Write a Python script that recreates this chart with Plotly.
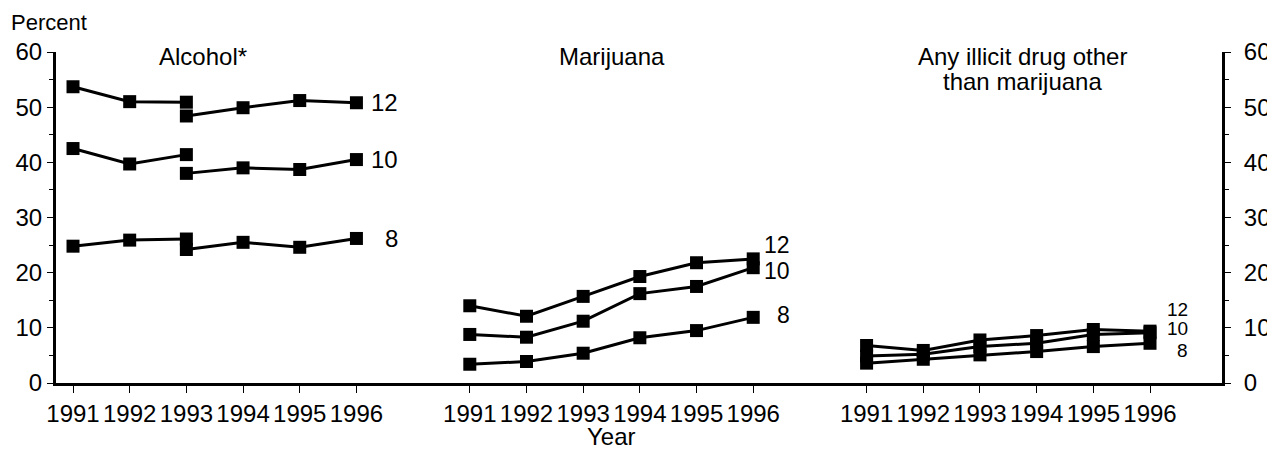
import plotly.graph_objects as go

# years shown in each panel
years = ["1991", "1992", "1993", "1994", "1995", "1996"]
panels = ["Alcohol*", "Marijuana", "Any illicit drug other<br>than marijuana"]
grades = ["12", "10", "8"]

# alcohol: questionnaire change in 1993 -> old (1991-93) and new (1993-96) segments
alc_12_old = [53.7, 51.0, 50.9]
alc_12_new = [48.4, 49.9, 51.2, 50.8]
alc_10_old = [42.5, 39.7, 41.4]
alc_10_new = [38.0, 39.0, 38.7, 40.5]
alc_8_old = [24.8, 25.9, 26.1]
alc_8_new = [24.2, 25.5, 24.6, 26.2]

# marijuana
mj_12 = [14.0, 12.1, 15.7, 19.3, 21.8, 22.5]
mj_10 = [8.8, 8.3, 11.2, 16.2, 17.5, 20.9]
mj_8 = [3.4, 3.9, 5.4, 8.2, 9.5, 11.9]

# any illicit drug other than marijuana
oth_12 = [6.8, 5.9, 7.8, 8.6, 9.7, 9.4]
oth_10 = [4.9, 5.2, 6.6, 7.2, 8.8, 9.1]
oth_8 = [3.6, 4.3, 5.1, 5.7, 6.6, 7.2]

FONT = "Liberation Sans, Arial, sans-serif"
offsets = [0, 7, 14]  # panel start positions on the shared x axis


def xpos(panel, idx):
    return [offsets[panel] + i for i in idx]


fig = go.Figure()


def add_line(x, y):
    fig.add_trace(go.Scatter(
        x=x, y=y, mode="lines+markers",
        line=dict(color="black", width=3),
        marker=dict(symbol="square", size=13, color="black"),
        showlegend=False, hoverinfo="skip"))


# alcohol
for old, new in [(alc_12_old, alc_12_new), (alc_10_old, alc_10_new), (alc_8_old, alc_8_new)]:
    add_line(xpos(0, range(3)), old)
    add_line(xpos(0, range(2, 6)), new)

# marijuana
for s in [mj_12, mj_10, mj_8]:
    add_line(xpos(1, range(6)), s)

# other illicit
for s in [oth_12, oth_10, oth_8]:
    add_line(xpos(2, range(6)), s)

# invisible trace so the right axis is drawn
fig.add_trace(go.Scatter(x=[0], y=[0], yaxis="y2", mode="markers",
                         marker=dict(opacity=0), showlegend=False, hoverinfo="skip"))

# grade labels at line ends
ends = [
    (0, [alc_12_new[-1], alc_10_new[-1], alc_8_new[-1]], [0, 0, 0], 0.76, 24),
    (1, [mj_12[-1], mj_10[-1], mj_8[-1]], [14, -3, 2], 0.68, 23),
    (2, [oth_12[-1], oth_10[-1], oth_8[-1]], [22, 4, -7], 0.70, 19),
]
for p, vals, shifts, dx, fs in ends:
    for g, v, sh in zip(grades, vals, shifts):
        fig.add_annotation(x=offsets[p] + 5 + dx, y=v, text=g, showarrow=False,
                           xanchor="right", yanchor="middle", yshift=sh,
                           font=dict(size=fs, color="black", family=FONT))

# panel titles (one annotation per text line)
title_x = [2.3, 9.5, 16.75]
for t, tx in zip(panels, title_x):
    for k, line in enumerate(t.split("<br>")):
        fig.add_annotation(x=tx, y=59.1, text=line, showarrow=False, xanchor="center",
                           yanchor="middle", yshift=-25 * k,
                           font=dict(size=24, color="black", family=FONT))

fig.add_annotation(x=-0.040, y=1.132, xref="paper", yref="paper", text="Percent",
                   showarrow=False, xanchor="left", yanchor="top",
                   font=dict(size=22, color="black", family=FONT))
fig.add_annotation(x=9.5, y=-0.163, yref="paper", text="Year", showarrow=False,
                   xanchor="center", yanchor="middle",
                   font=dict(size=24, color="black", family=FONT))

tickvals = [o + i for o in offsets for i in range(6)]
ticktext = years * 3

yax = dict(range=[0, 60], dtick=10, showline=True, linewidth=3, linecolor="black",
           ticks="outside", ticklen=6, tickwidth=1, tickcolor="black",
           minor=dict(dtick=5, ticks="outside", ticklen=4, tickcolor="black"),
           showgrid=False, zeroline=False, automargin=False,
           tickfont=dict(size=24, color="black", family=FONT))

# page body has an 8px margin, so the figure is shrunk by that much
fig.update_layout(
    width=1267, height=449,
    margin=dict(l=48, r=53, t=44, b=74),
    paper_bgcolor="white", plot_bgcolor="white",
    xaxis=dict(range=[-0.30, 20.27], tickvals=tickvals, ticktext=ticktext,
               tickangle=0, automargin=False,
               showline=True, linewidth=3, linecolor="black",
               ticks="outside", ticklen=7, tickwidth=1, tickcolor="black",
               showgrid=False, zeroline=False,
               tickfont=dict(size=24, color="black", family=FONT)),
    yaxis=yax,
    yaxis2=dict(yax, overlaying="y", side="right", anchor="x", ticklabelstandoff=8),
)

fig.write_html("out.html")
